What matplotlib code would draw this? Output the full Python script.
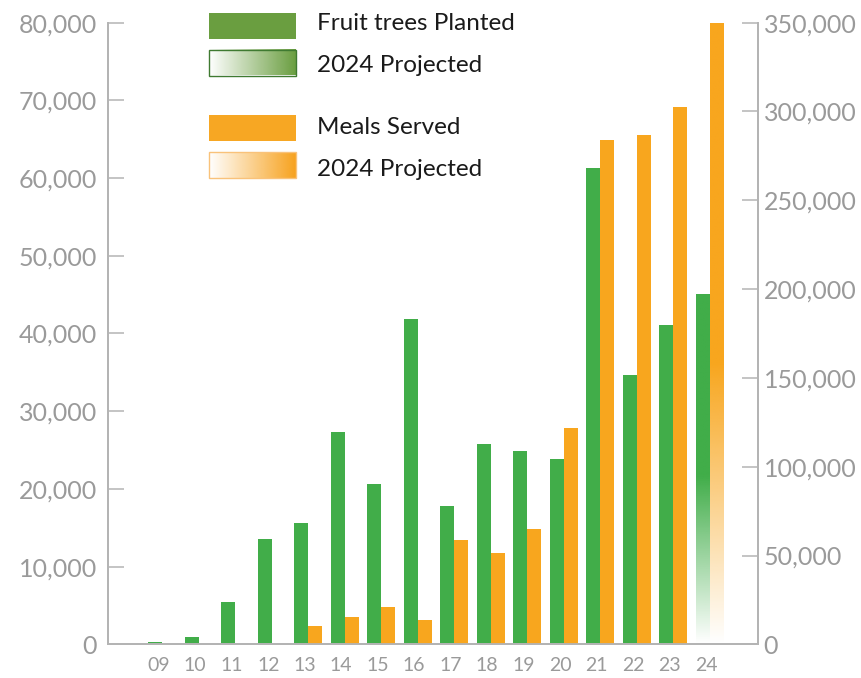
import numpy as np
import matplotlib
matplotlib.use('Agg')
import matplotlib.pyplot as plt
from matplotlib.patches import Rectangle
from matplotlib.ticker import FuncFormatter

plt.rcParams['font.family'] = ['Lato', 'DejaVu Sans']

# data
years = ['09', '10', '11', '12', '13', '14', '15', '16',
         '17', '18', '19', '20', '21', '22', '23', '24']
trees = [300, 1000, 5400, 13600, 15600, 27300, 20600, 41900,
         17800, 25800, 24900, 23900, 61300, 34700, 41100, 45000]
meals = [0, 0, 0, 0, 10300, 15400, 21000, 13700,
         58700, 51400, 64900, 121800, 284000, 286800, 302500, 350000]
projected = [False] * 15 + [True]

GREEN = '#41ad49'
ORANGE = '#f8a61e'
GREY = '#9a9a9a'
SPINE = '#b4b4b4'

W, H = 862, 678
fig = plt.figure(figsize=(W / 100, H / 100), dpi=100)
ax = fig.add_axes([108 / W, 33.7 / H, 650 / W, 621.6 / H])
ax2 = ax.twinx()

bw = 0.383
x = np.arange(len(years))


def grad_bar(axis, xc, height, color, top_frac):
    # vertical fade to white toward the baseline
    t = np.linspace(0, 1, 256)[:, None]
    alpha = np.clip(t / top_frac, 0, 1)
    rgb = np.array(matplotlib.colors.to_rgb(color))
    img = np.ones((256, 1, 4))
    img[..., :3] = rgb
    img[..., 3] = alpha
    axis.imshow(img, extent=[xc - bw / 2, xc + bw / 2, 0, height],
                origin='lower', aspect='auto', interpolation='bilinear', zorder=2)


for i in range(len(years)):
    if projected[i]:
        grad_bar(ax, x[i] - bw / 2, trees[i], GREEN, 0.48)
        grad_bar(ax2, x[i] + bw / 2, meals[i], ORANGE, 0.45)
    else:
        ax.bar(x[i] - bw / 2, trees[i], bw, color=GREEN, zorder=2)
        if meals[i] > 0:
            ax2.bar(x[i] + bw / 2, meals[i], bw, color=ORANGE, zorder=2)

xlim = (-1.49, 16.32)
for a in (ax, ax2):
    a.set_xlim(*xlim)
    a.patch.set_visible(False)
    a.spines['top'].set_visible(False)
    for s in ('left', 'right', 'bottom'):
        a.spines[s].set_color(SPINE)
        a.spines[s].set_linewidth(1.3)

ax.set_ylim(0, 80000)
ax2.set_ylim(0, 350000)
ax.set_yticks(np.arange(0, 80001, 10000))
ax2.set_yticks(np.arange(0, 350001, 50000))
fmt = FuncFormatter(lambda v, p: f'{int(v):,}')
ax.yaxis.set_major_formatter(fmt)
ax2.yaxis.set_major_formatter(fmt)
ax.tick_params(axis='y', direction='in', length=11.5, width=1.1, color=SPINE,
               labelsize=18, labelcolor=GREY, pad=8)
ax2.tick_params(axis='y', direction='in', length=11.5, width=1.1, color=SPINE,
                labelsize=18, labelcolor=GREY, pad=4)
ax.set_xticks(x - 0.1)
ax.set_xticklabels(years)
ax.tick_params(axis='x', length=0, labelsize=14, labelcolor=GREY, pad=9)
ax2.tick_params(axis='x', length=0)

# legend drawn by hand (pixel coordinates)
lg = fig.add_axes([0, 0, 1, 1])
lg.set_xlim(0, W)
lg.set_ylim(H, 0)
lg.axis('off')


def grad_swatch(y0, color, edge):
    img = np.ones((1, 256, 4))
    img[..., :3] = matplotlib.colors.to_rgb(color)
    img[..., 3] = np.linspace(0, 1, 256)
    lg.imshow(img, extent=[209, 296, y0 + 26, y0], aspect='auto',
              interpolation='bilinear')
    lg.add_patch(Rectangle((209, y0), 87, 26, fill=False, edgecolor=edge, linewidth=1))


lg.add_patch(Rectangle((209, 13), 87, 26, color='#6a9e40', linewidth=0))
grad_swatch(49.5, '#6a9e40', '#3f7a31')
lg.add_patch(Rectangle((209, 115), 87, 26, color='#f7a723', linewidth=0))
grad_swatch(152, '#f7a21e', '#f9c27a')
lg.set_xlim(0, W)
lg.set_ylim(H, 0)

labels = [('Fruit trees Planted', 23), ('2024 Projected', 66),
          ('Meals Served', 128), ('2024 Projected', 170)]
for txt, yy in labels:
    lg.text(317, yy, txt, fontsize=17.5, color='#1a1a1a', va='center', ha='left')

plt.savefig('out.png', dpi=100)
